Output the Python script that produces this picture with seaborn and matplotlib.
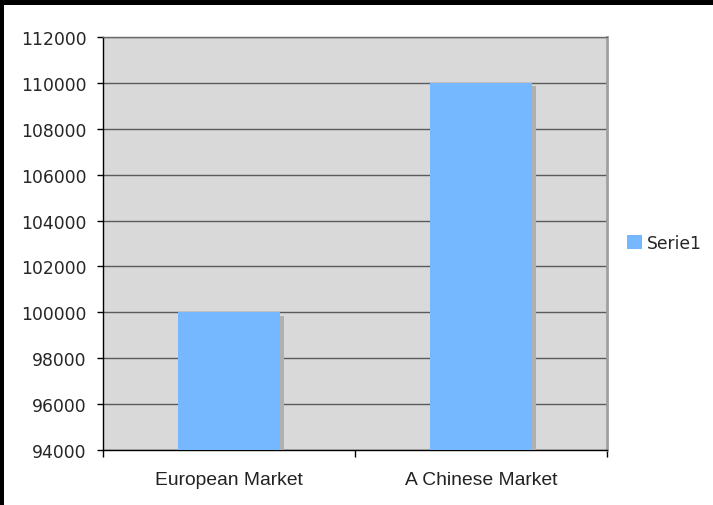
import matplotlib
matplotlib.use("Agg")
import matplotlib.pyplot as plt
import matplotlib.patheffects as pe
from matplotlib.patches import Rectangle
from matplotlib.ticker import MultipleLocator, FixedLocator
import seaborn as sns
import pandas as pd

categories = ["European Market", "A Chinese Market"]
values = [100000, 110000]
series_name = "Serie1"
y_ticks = list(range(94000, 112001, 2000))

df = pd.DataFrame({"market": categories, "value": values, "series": series_name})

sns.set_style("white")
plt.rcParams["font.family"] = ["DejaVu Sans"]

W, H = 713, 506
fig = plt.figure(figsize=(W / 100, H / 100), dpi=100)
fig.patch.set_facecolor("white")
ax = fig.add_axes([103 / W, 1 - 451 / H, (607 - 103) / W, (451 - 38) / H])
ax.set_facecolor("#d9d9d9")

bar_color = "#75b8ff"
sns.barplot(data=df, x="market", y="value", hue="series", palette=[bar_color],
            width=0.405, ax=ax, legend=False, saturation=1, zorder=3,
            edgecolor="none", linewidth=0)
for p in ax.patches:
    p.set_path_effects([pe.SimplePatchShadow(offset=(2.5, -2.5), shadow_rgbFace="#b0b0b0", alpha=1.0),
                        pe.Normal()])

ax.set_ylim(94000, 112000)
ax.set_xlim(-0.5, 1.5)
ax.yaxis.set_major_locator(FixedLocator(y_ticks))
ax.set_yticklabels([str(v) for v in y_ticks])
ax.grid(axis="y", color="#5a5a5a", linewidth=1.0, zorder=1)
ax.set_axisbelow(True)
ax.set_xlabel("")
ax.set_ylabel("")

for lab in ax.get_yticklabels():
    lab.set_fontsize(12.4)
    lab.set_family("DejaVu Sans")
for lab in ax.get_xticklabels():
    lab.set_fontsize(13.9)
    lab.set_family("Liberation Sans")
    lab.set_color("#222222")

ax.tick_params(axis="y", which="major", length=4, width=1, color="black", pad=8, left=True)
ax.tick_params(axis="x", which="major", length=0, pad=15)
ax.xaxis.set_minor_locator(FixedLocator([-0.5, 0.5, 1.5]))
ax.tick_params(axis="x", which="minor", length=5, width=1, color="black", bottom=True, direction="out")

for s in ["left", "bottom"]:
    ax.spines[s].set_color("black")
    ax.spines[s].set_linewidth(1.0)
ax.spines["top"].set_color("#6a6a6a")
ax.spines["top"].set_linewidth(1.0)
ax.spines["right"].set_color("#a0a0a0")
ax.spines["right"].set_linewidth(2.0)

handle = Rectangle((0, 0), 1, 1, facecolor=bar_color, edgecolor="none")
leg = ax.legend([handle], [series_name], loc="center left",
                bbox_to_anchor=((627 - 103) / (607 - 103), (451 - 244) / (451 - 38)),
                frameon=False, fontsize=12.3, handlelength=0.85, handleheight=0.85,
                handletextpad=0.3, borderaxespad=0, borderpad=0)

# black frame strips at top and left edges
fig.patches.append(Rectangle((0, 1 - 6 / H), 1, 6 / H, transform=fig.transFigure,
                             facecolor="black", edgecolor="none", zorder=10))
fig.patches.append(Rectangle((0, 0), 4 / W, 1, transform=fig.transFigure,
                             facecolor="black", edgecolor="none", zorder=10))

fig.savefig("out.png", dpi=100)
